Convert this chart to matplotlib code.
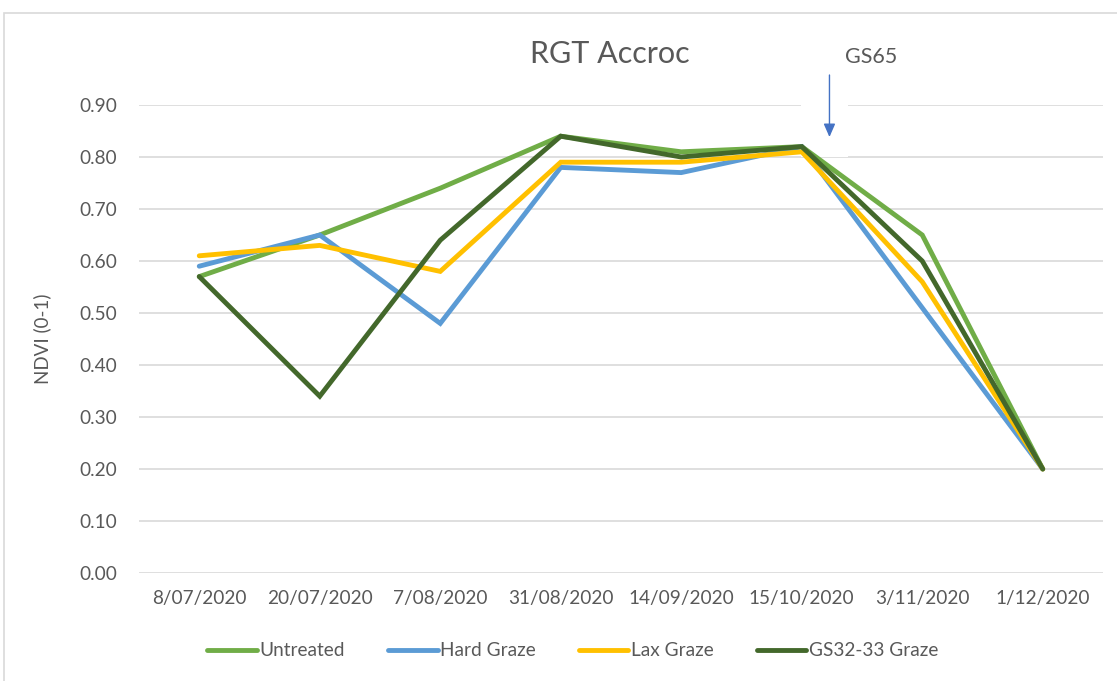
import matplotlib
matplotlib.use("Agg")
import matplotlib.pyplot as plt
from matplotlib.patches import Rectangle
import numpy as np

# data
dates = ["8/07/2020", "20/07/2020", "7/08/2020", "31/08/2020",
         "14/09/2020", "15/10/2020", "3/11/2020", "1/12/2020"]
untreated = [0.57, 0.65, 0.74, 0.84, 0.81, 0.82, 0.65, 0.20]
hard_graze = [0.59, 0.65, 0.48, 0.78, 0.77, 0.82, 0.51, 0.20]
lax_graze = [0.61, 0.63, 0.58, 0.79, 0.79, 0.81, 0.56, 0.20]
gs32_graze = [0.57, 0.34, 0.64, 0.84, 0.80, 0.82, 0.60, 0.20]
series_names = ["Untreated", "Hard Graze", "Lax Graze", "GS32-33 Graze"]
series_colors = ["#70AD47", "#5B9BD5", "#FFC000", "#43682B"]

plt.rcParams['font.family'] = ['Lato', 'DejaVu Sans']
text_col = "#595959"

fig = plt.figure(figsize=(11.17, 6.81), dpi=100)
ax = fig.add_axes([139/1117, 1 - 573/681, 964/1117, 468/681])

x = np.arange(len(dates))
for vals, name, col in zip([untreated, hard_graze, lax_graze, gs32_graze],
                           series_names, series_colors):
    ax.plot(x, vals, color=col, lw=3.5, label=name, solid_capstyle='round',
            solid_joinstyle='miter', zorder=3)

ax.set_xlim(-0.5, len(dates) - 0.5)
ax.set_ylim(0, 0.9)
ax.set_yticks(np.arange(0, 0.91, 0.1))
ax.set_yticklabels([f"{v:.2f}" for v in np.arange(0, 0.91, 0.1)])
ax.set_xticks(x)
ax.set_xticklabels(dates)
ax.tick_params(length=0, labelsize=13.7, colors=text_col, pad=12)
ax.tick_params(axis='y', pad=16)
ax.grid(axis='y', color="#D9D9D9", lw=1.2)
ax.set_axisbelow(True)
for s in ax.spines.values():
    s.set_visible(False)

ax.set_ylabel("NDVI (0-1)", fontsize=13.5, color=text_col, labelpad=20)

# white box behind the GS65 arrow
ax.add_patch(Rectangle((4.99, 0.80), 0.39, 0.13, facecolor='white',
                       edgecolor='none', zorder=2, clip_on=False))
ax.annotate("", xy=(5.23, 0.833), xytext=(5.23, 0.963),
            arrowprops=dict(arrowstyle="-|>,head_length=0.8,head_width=0.35",
                            color="#4472C4", lw=1.0),
            annotation_clip=False, zorder=4)

fig.text(610/1117, 1 - 54/681, "RGT Accroc", fontsize=22, color=text_col,
         ha='center', va='center')
fig.text(871/1117, 1 - 57/681, "GS65", fontsize=15.5, color=text_col,
         ha='center', va='center')

leg = ax.legend(loc='center', bbox_to_anchor=(573/1117, 1 - 651/681), ncol=4,
                bbox_transform=fig.transFigure, frameon=False, fontsize=13.7,
                handlelength=2.6, handletextpad=0.15, columnspacing=2.25)
for t in leg.get_texts():
    t.set_color(text_col)

# chart border
fig.patches.append(Rectangle((4/1117, -0.1), 1.2, 1 - 13/681 + 0.1,
                             transform=fig.transFigure, fill=False,
                             edgecolor="#D9D9D9", lw=1.2))

fig.savefig("out.png", dpi=100)
